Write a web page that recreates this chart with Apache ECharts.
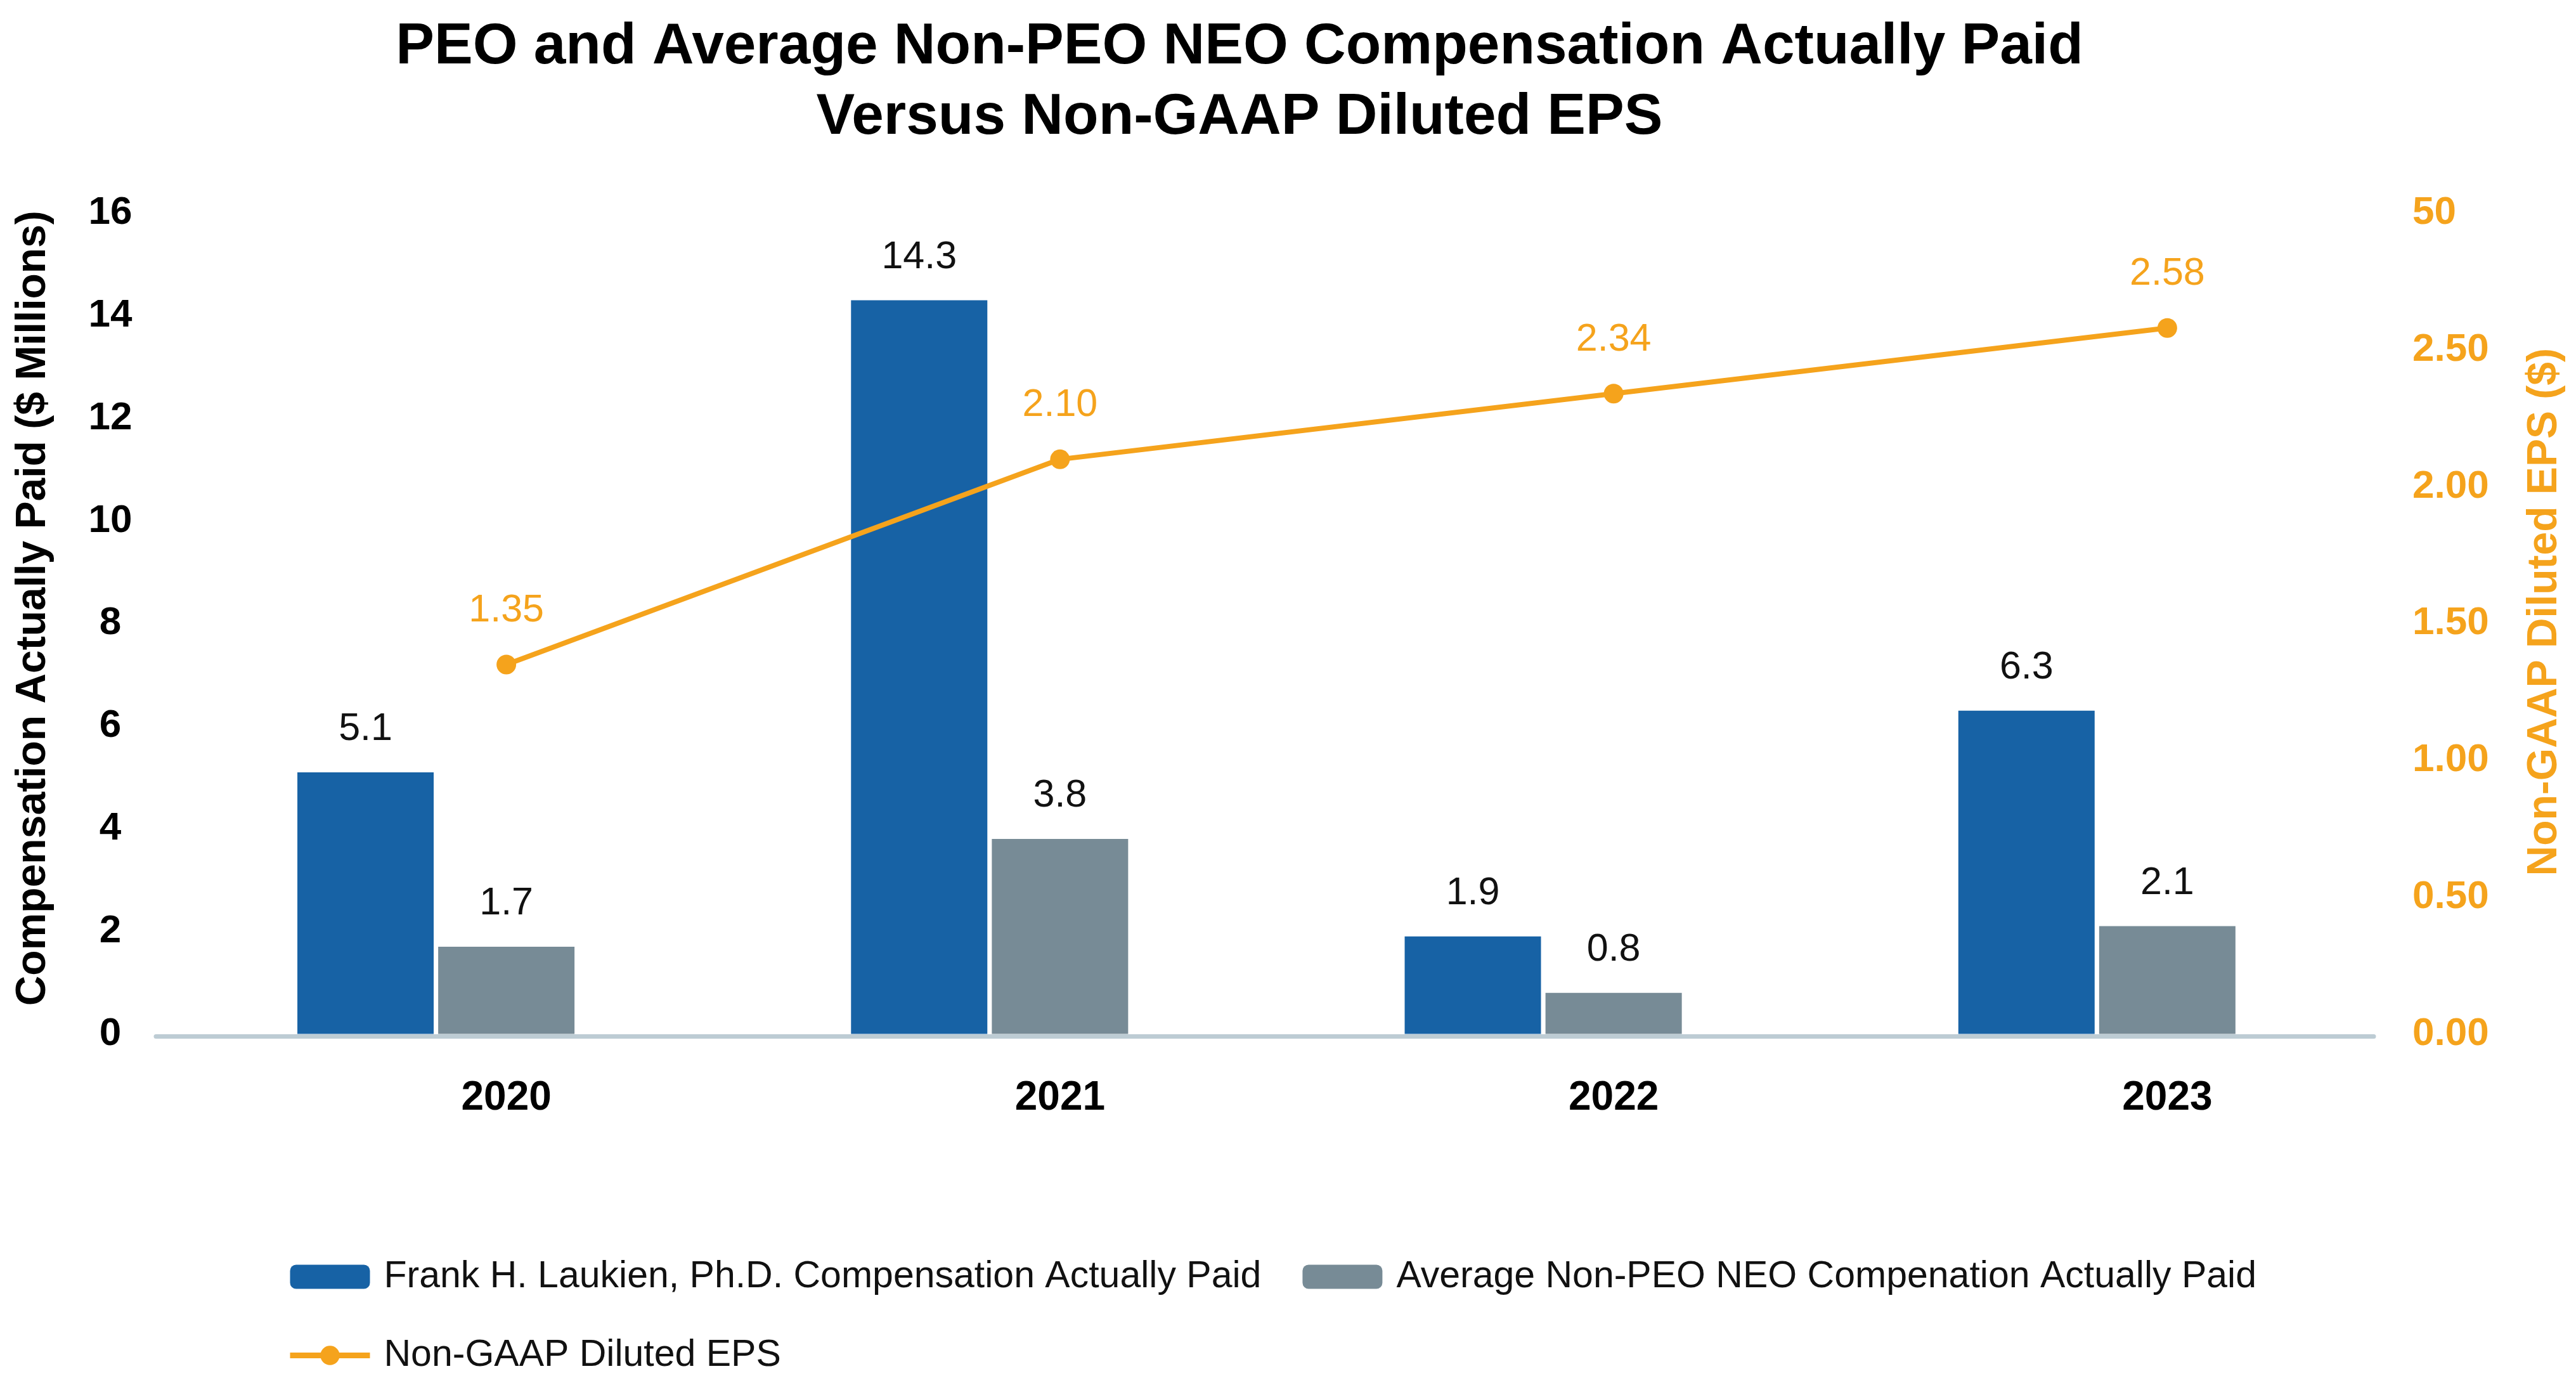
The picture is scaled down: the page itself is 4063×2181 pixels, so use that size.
<!DOCTYPE html>
<html>
<head>
<meta charset="utf-8">
<script src="https://cdn.jsdelivr.net/npm/echarts@6/dist/echarts.min.js"></script>
<style>
html,body{margin:0;padding:0;background:#fff;}
#chart{width:4063px;height:2181px;}
</style>
</head>
<body>
<div id="chart"></div>
<script>
const categories = ['2020', '2021', '2022', '2023'];
const peoCap = [5.1, 14.3, 1.9, 6.3];
const neoCap = [1.7, 3.8, 0.8, 2.1];
const eps = [1.35, 2.10, 2.34, 2.58];
const leftTicks = ['0', '2', '4', '6', '8', '10', '12', '14', '16'];
const rightTicks = ['0.00', '0.50', '1.00', '1.50', '2.00', '2.50', '50'];
const seriesNames = [
  'Frank H. Laukien, Ph.D. Compensation Actually Paid',
  'Average Non-PEO NEO Compenation Actually Paid',
  'Non-GAAP Diluted EPS'
];

const FONT = '"Liberation Sans", Arial, Helvetica, sans-serif';
const BLUE = '#1762A5', GRAY = '#778B96', ORANGE = '#F5A31C';
const chart = echarts.init(document.getElementById('chart'));
chart.setOption({
  backgroundColor: '#ffffff',
  animation: false,
  textStyle: { fontFamily: FONT },
  title: {
    text: 'PEO and Average Non-PEO NEO Compensation Actually Paid\nVersus Non-GAAP Diluted EPS',
    left: 1950,
    top: 14,
    textAlign: 'center',
    textStyle: { fontFamily: FONT, fontSize: 91, fontWeight: 'bold', color: '#000', lineHeight: 111 }
  },
  grid: [
    { left: 362, right: 208, top: 336, bottom: 550.5, containLabel: false, outerBoundsMode: 'none' },
    { left: 246, right: 319, top: 336, bottom: 546.5, containLabel: false, outerBoundsMode: 'none' }
  ],
  legend: {
    left: 448,
    top: 1979,
    width: 3200,
    itemWidth: 126,
    itemHeight: 38,
    itemGap: 65,
    data: [
      { name: seriesNames[0] },
      { name: seriesNames[1] },
      { name: seriesNames[2], lineStyle: { width: 9, color: ORANGE } }
    ],
    textStyle: { fontFamily: FONT, fontSize: 59, color: '#111', padding: [0, 0, 0, 17], lineHeight: 55 }
  },
  xAxis: [
    {
      type: 'category', gridIndex: 0,
      data: categories,
      axisLine: { show: false },
      axisTick: { show: false },
      axisLabel: { fontFamily: FONT, fontSize: 64, fontWeight: 'bold', color: '#000', margin: 70 }
    },
    {
      type: 'category', gridIndex: 1,
      data: categories,
      axisLine: { show: true, lineStyle: { color: '#BDCCD4', width: 7 } },
      axisTick: { show: false },
      axisLabel: { show: false }
    }
  ],
  yAxis: [
    {
      type: 'value', gridIndex: 0, min: 0, max: 16, interval: 2,
      name: 'Compensation Actually Paid ($ Millions)',
      nameLocation: 'middle', nameRotate: 90, nameGap: 276,
      nameTextStyle: { fontFamily: FONT, fontSize: 66, fontWeight: 'bold', color: '#000', padding: [0, 0, 0, 48] },
      axisLine: { show: false }, axisTick: { show: false }, splitLine: { show: false },
      axisLabel: {
        fontFamily: FONT, fontSize: 62, fontWeight: 'bold', color: '#000', margin: 188, align: 'center',
        formatter: function (v) { return leftTicks[Math.round(v / 2)]; }
      }
    },
    {
      type: 'value', gridIndex: 0, min: 0, max: 3, interval: 0.5,
      name: 'Non-GAAP Diluted EPS ($)',
      nameLocation: 'middle', nameRotate: 90, nameGap: 126,
      nameTextStyle: { fontFamily: FONT, fontSize: 66, fontWeight: 'bold', color: ORANGE, padding: [0, 0, 0, 36] },
      axisLine: { show: false }, axisTick: { show: false }, splitLine: { show: false },
      axisLabel: {
        fontFamily: FONT, fontSize: 62, fontWeight: 'bold', color: ORANGE, margin: -50,
        formatter: function (v) { return rightTicks[Math.round(v / 0.5)]; }
      }
    },
    { type: 'value', gridIndex: 1, show: false, min: 0, max: 1 }
  ],
  series: [
    {
      name: seriesNames[0],
      type: 'bar', data: peoCap, barWidth: 215, barGap: '3.3%',
      itemStyle: { color: BLUE },
      label: { show: true, position: 'top', distance: 37, fontFamily: FONT, fontSize: 61, color: '#111',
        formatter: function (p) { return p.value.toFixed(1); } }
    },
    {
      name: seriesNames[1],
      type: 'bar', data: neoCap, barWidth: 215, barGap: '3.3%',
      itemStyle: { color: GRAY },
      label: { show: true, position: 'top', distance: 37, fontFamily: FONT, fontSize: 61, color: '#111',
        formatter: function (p) { return p.value.toFixed(1); } }
    },
    {
      name: 'slot', type: 'bar', data: categories.map(function () { return null; }),
      barWidth: 215, barGap: '3.3%', silent: true
    },
    {
      name: seriesNames[2],
      type: 'line', yAxisIndex: 1, data: eps,
      symbol: 'circle', symbolSize: 31,
      lineStyle: { color: ORANGE, width: 8 },
      itemStyle: { color: ORANGE },
      label: { show: true, position: 'top', distance: 39, fontFamily: FONT, fontSize: 61, color: ORANGE,
        formatter: function (p) { return p.value.toFixed(2); } },
      z: 5
    }
  ]
});
</script>
</body>
</html>
